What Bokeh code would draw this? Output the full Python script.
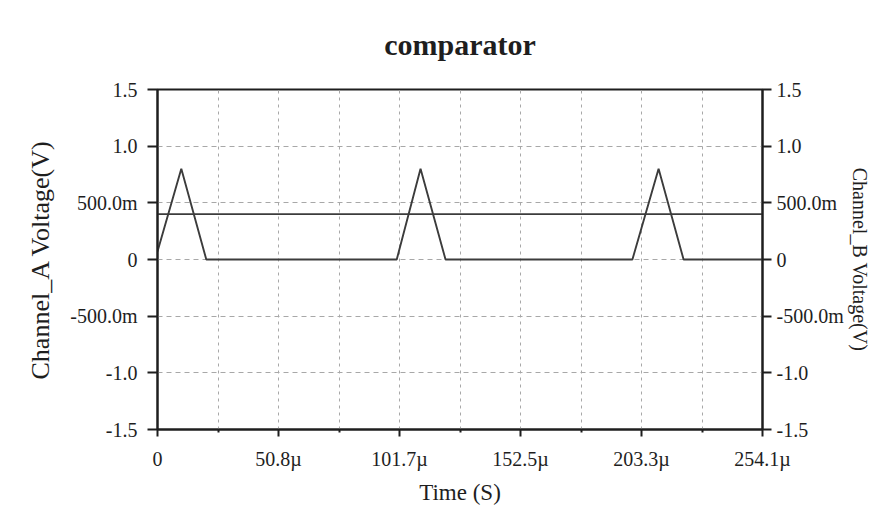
import math
from bokeh.plotting import figure
from bokeh.models import Range1d, LinearAxis, FixedTicker, Title
from bokeh.embed import file_html
from bokeh.resources import INLINE

# ---- data (time in microseconds, voltage in volts) ----
time_a = [0.0, 10.0, 20.5, 100.5, 110.5, 121.0, 199.5, 210.5, 221.0, 254.15]
channel_a = [0.07, 0.80, 0.0, 0.0, 0.80, 0.0, 0.0, 0.80, 0.0, 0.0]

time_b = [0.0, 254.15]
channel_b = [0.40, 0.40]

x_tick_values = [0.0, 50.83, 101.66, 152.49, 203.32, 254.15]
x_tick_labels = ["0", "50.8µ", "101.7µ", "152.5µ", "203.3µ", "254.1µ"]
x_minor_values = [25.415, 76.245, 127.075, 177.905, 228.735]

y_tick_values = [-1.5, -1.0, -0.5, 0.0, 0.5, 1.0, 1.5]
y_tick_labels = ["-1.5", "-1.0", "-500.0m", "0", "500.0m", "1.0", "1.5"]

title_text = "comparator"
x_label = "Time (S)"
y_label_left = "Channel_A Voltage(V)"
y_label_right = "Channel_B Voltage(V)"

FONT = "Liberation Serif"
INK = "#1e1e1e"
LINE = "#3c3c3c"
GRID = "#a8a8a8"

p = figure(width=873, height=511, output_backend="svg", toolbar_location=None,
           x_range=Range1d(x_tick_values[0], x_tick_values[-1]),
           y_range=Range1d(y_tick_values[0], y_tick_values[-1]),
           min_border_left=157, min_border_right=110,
           min_border_top=89, min_border_bottom=82,
           background_fill_color="white", border_fill_color="white")

p.title = Title(text=title_text, align="center", vertical_align="top",
                text_font=FONT, text_font_size="30px", text_font_style="bold",
                text_color=INK, standoff=53)

p.outline_line_color = INK
p.outline_line_width = 2

# line glyphs
p.line(time_b, channel_b, line_color=LINE, line_width=1.9)
p.line(time_a, channel_a, line_color=LINE, line_width=1.9)

# grids
p.xgrid.ticker = FixedTicker(ticks=x_tick_values[1:-1] + x_minor_values)
p.xgrid.grid_line_color = GRID
p.xgrid.grid_line_dash = "3 4"
p.xgrid.grid_line_width = 1
p.ygrid.ticker = FixedTicker(ticks=y_tick_values[1:-1])
p.ygrid.grid_line_color = GRID
p.ygrid.grid_line_dash = "5 4"
p.ygrid.grid_line_width = 1

def style_axis(ax, tick_out, standoff):
    ax.axis_line_color = INK
    ax.axis_line_width = 2
    ax.major_tick_line_color = INK
    ax.major_tick_line_width = 2
    ax.major_tick_out = tick_out
    ax.major_tick_in = 0
    ax.major_label_text_font = FONT
    ax.major_label_text_font_size = "20px"
    ax.major_label_text_color = INK
    ax.major_label_standoff = standoff
    ax.axis_label_text_font = FONT
    ax.axis_label_text_font_style = "normal"
    ax.axis_label_text_color = INK

# x axis
xa = p.xaxis[0]
xa.ticker = FixedTicker(ticks=x_tick_values, minor_ticks=x_minor_values)
xa.major_label_overrides = dict(zip(x_tick_values, x_tick_labels))
style_axis(xa, 7, 11)
xa.minor_tick_line_color = INK
xa.minor_tick_line_width = 2
xa.minor_tick_out = 3
xa.minor_tick_in = 0
xa.axis_label = x_label
xa.axis_label_text_font_size = "23px"
xa.axis_label_standoff = 7

# left y axis
ya = p.yaxis[0]
ya.ticker = FixedTicker(ticks=y_tick_values, minor_ticks=[])
ya.major_label_overrides = dict(zip(y_tick_values, y_tick_labels))
style_axis(ya, 10, 10)
ya.minor_tick_line_color = None
ya.axis_label = y_label_left
ya.axis_label_text_font_size = "26px"
ya.axis_label_standoff = 12

# right y axis
yr = LinearAxis(ticker=FixedTicker(ticks=y_tick_values, minor_ticks=[]))
yr.major_label_overrides = dict(zip(y_tick_values, y_tick_labels))
style_axis(yr, 9, 5)
yr.minor_tick_line_color = None
yr.axis_label = y_label_right
yr.axis_label_text_font_size = "20px"
yr.axis_label_standoff = 2
p.add_layout(yr, "right")

open("out.html", "w").write(file_html(p, INLINE))
